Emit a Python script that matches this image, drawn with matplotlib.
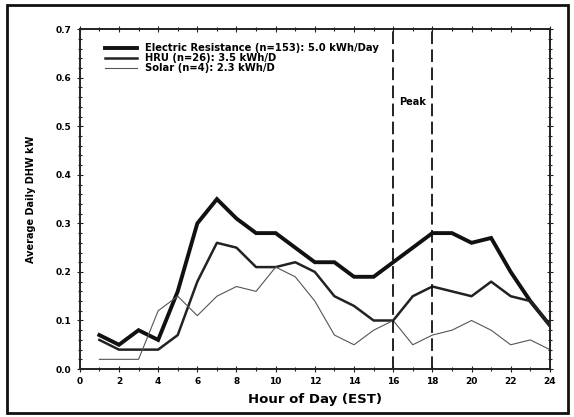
"""Average daily DHW load profile by water heater type."""

import matplotlib.pyplot as plt
from matplotlib.patches import Rectangle
from matplotlib.ticker import MultipleLocator

hours = list(range(1, 25))
electric = [0.07, 0.05, 0.08, 0.06, 0.16, 0.30, 0.35, 0.31, 0.28, 0.28, 0.25, 0.22,
            0.22, 0.19, 0.19, 0.22, 0.25, 0.28, 0.28, 0.26, 0.27, 0.20, 0.14, 0.09]
hru = [0.06, 0.04, 0.04, 0.04, 0.07, 0.18, 0.26, 0.25, 0.21, 0.21, 0.22, 0.20,
       0.15, 0.13, 0.10, 0.10, 0.15, 0.17, 0.16, 0.15, 0.18, 0.15, 0.14, 0.09]
solar = [0.02, 0.02, 0.02, 0.12, 0.15, 0.11, 0.15, 0.17, 0.16, 0.21, 0.19, 0.14,
         0.07, 0.05, 0.08, 0.10, 0.05, 0.07, 0.08, 0.10, 0.08, 0.05, 0.06, 0.04]
labels = ["Electric Resistance (n=153): 5.0 kWh/Day",
          "HRU (n=26): 3.5 kWh/D",
          "Solar (n=4): 2.3 kWh/D"]
peak_hours = [16, 18]

plt.rcParams["font.family"] = "DejaVu Sans"
plt.rcParams["font.weight"] = "bold"

fig = plt.figure(figsize=(5.74, 4.17), dpi=100)
ax = fig.add_axes([0.139, 0.115, 0.819, 0.815])

ax.plot(hours, electric, color="#111111", lw=2.8, label=labels[0], solid_joinstyle="miter")
ax.plot(hours, hru, color="#222222", lw=1.8, label=labels[1])
ax.plot(hours, solar, color="#555555", lw=0.8, label=labels[2])

for h in peak_hours:
    ax.axvline(h, color="#111111", lw=1.3, dashes=(7, 3))
ax.text(17, 0.55, "Peak", ha="center", va="center", fontsize=7, fontweight="bold")

ax.set_xlim(0, 24)
ax.set_ylim(0, 0.7)
ax.xaxis.set_major_locator(MultipleLocator(2))
ax.xaxis.set_minor_locator(MultipleLocator(1))
ax.yaxis.set_major_locator(MultipleLocator(0.1))
ax.yaxis.set_minor_locator(MultipleLocator(0.02))
ax.yaxis.set_major_formatter(lambda v, p: f"{v:.1f}")
ax.tick_params(which="both", direction="inout", top=True, right=True, labelsize=6.5,
               width=0.8, color="#222222")
ax.tick_params(which="major", length=5)
ax.tick_params(which="minor", length=3)
for s in ax.spines.values():
    s.set_linewidth(1.4)
    s.set_color("#222222")

ax.set_xlabel("Hour of Day (EST)", fontsize=9.5, fontweight="bold", labelpad=5)
ax.set_ylabel("Average Daily DHW kW", fontsize=7, fontweight="bold", labelpad=14)

leg = ax.legend(loc="upper left", bbox_to_anchor=(0.045, 0.97), frameon=False,
                fontsize=7.2, handlelength=3.2, handletextpad=0.8, labelspacing=0.0,
                borderaxespad=0)
for t in leg.get_texts():
    t.set_fontweight("bold")

fig.patches.append(Rectangle((0.013, 0.01), 0.977, 0.978, transform=fig.transFigure,
                             fill=False, edgecolor="#111111", lw=2))

fig.savefig("out.png", dpi=100)
